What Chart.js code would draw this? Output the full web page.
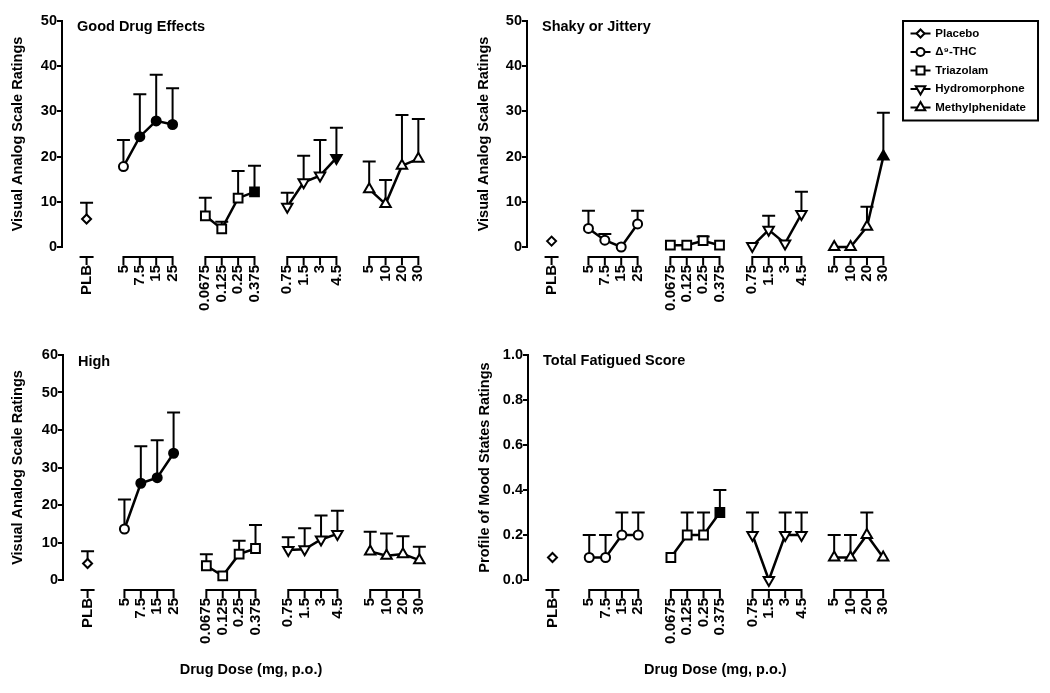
<!DOCTYPE html>
<html>
<head>
<meta charset="utf-8">
<script src="https://cdn.jsdelivr.net/npm/chart.js@4.4.1/dist/chart.umd.min.js"></script>
<style>
  body { margin: 0; background: #fff; }
  #wrap { position: relative; width: 1050px; height: 693px; }
  canvas { position: absolute; }
</style>
</head>
<body>
<div id="wrap">
  <canvas id="good" width="470" height="330" style="left:0;top:0"></canvas>
  <canvas id="shaky" width="580" height="330" style="left:470px;top:0"></canvas>
  <canvas id="high" width="470" height="363" style="left:0;top:330px"></canvas>
  <canvas id="fatigue" width="450" height="363" style="left:470px;top:330px"></canvas>
</div>
<script>
// x tick labels, in plotting order (placebo, then 4 doses of each drug)
const doseLabels = ['PLB', '5', '7.5', '15', '25', '0.0675', '0.125', '0.25', '0.375',
  '0.75', '1.5', '3', '4.5', '5', '10', '20', '30'];
const drugNames = ['Placebo', 'Δ⁹-THC', 'Triazolam', 'Hydromorphone', 'Methylphenidate'];
const drugCounts = [1, 4, 4, 4, 4];

// Good Drug Effects (VAS)
const goodMeans = [6.2, 17.8, 24.4, 27.9, 27.1, 6.9, 4.0, 10.8, 12.2, 8.9, 14.3, 15.8, 19.7, 12.8, 9.5, 18.0, 19.5];
const goodSem   = [3.6, 5.9, 9.4, 10.2, 8.0, 4.0, 1.6, 6.0, 5.8, 3.1, 5.9, 7.9, 6.7, 6.1, 5.3, 11.2, 8.8];
const goodSig   = [0, 0, 1, 1, 1, 0, 0, 0, 1, 0, 0, 0, 1, 0, 0, 0, 0];

// Shaky or Jittery (VAS)
const shakyMeans = [1.3, 4.1, 1.5, 0.0, 5.1, 0.4, 0.4, 1.4, 0.4, 0.2, 3.8, 0.8, 7.3, 0.0, 0.0, 4.5, 20.0];
const shakySem   = [0, 3.9, 1.4, 0, 2.9, 0, 0, 0.9, 0, 0, 3.1, 0, 4.9, 0, 0, 4.4, 9.7];
const shakySig   = [0, 0, 0, 0, 0, 0, 0, 0, 0, 0, 0, 0, 0, 0, 0, 0, 1];

// High (VAS)
const highMeans = [4.4, 13.6, 25.8, 27.3, 33.8, 3.8, 1.1, 6.9, 8.4, 8.0, 8.2, 10.8, 12.3, 7.6, 6.5, 6.9, 5.3];
const highSem   = [3.3, 7.9, 9.9, 10.0, 10.9, 3.1, 0, 3.6, 6.3, 3.4, 5.6, 6.4, 6.2, 5.3, 5.9, 4.8, 3.6];
const highSig   = [0, 0, 1, 1, 1, 0, 0, 0, 0, 0, 0, 0, 0, 0, 0, 0, 0];

// Total Fatigued Score (POMS)
const fatigueMeans = [0.1, 0.1, 0.1, 0.2, 0.2, 0.1, 0.2, 0.2, 0.3, 0.2, 0.0, 0.2, 0.2, 0.1, 0.1, 0.2, 0.1];
const fatigueSem   = [0, 0.1, 0.1, 0.1, 0.1, 0, 0.1, 0.1, 0.1, 0.1, 0, 0.1, 0.1, 0.1, 0.1, 0.1, 0];
const fatigueSig   = [0, 0, 0, 0, 0, 0, 0, 0, 1, 0, 0, 0, 0, 0, 0, 0, 0];

// marker look per drug
const markerStyle = ['rectRot', 'circle', 'rect', 'triangle', 'triangle'];
const markerRotation = [0, 0, 0, 180, 0];
const markerRadius = [4.5, 4.5, 6.2, 6, 6];

// x slot of every dose: each drug gets its own little axis segment
const groupStart = [-2.25, 0, 5, 10, 15];
const slots = [];
drugCounts.forEach((n, g) => {
    for (let k = 0; k < n; k++) slots.push(groupStart[g] + k);
});

Chart.defaults.font.family = "'Liberation Sans', Arial, Helvetica, sans-serif";
Chart.defaults.font.size = 14.5;
Chart.defaults.font.weight = 'bold';
Chart.defaults.color = '#000';

function buildDatasets(means, sem, sig) {
    let sets = [];
    let k = 0;
    drugNames.forEach((name, g) => {
        let pts = [], errs = [], fills = [];
        for (let j = 0; j < drugCounts[g]; j++, k++) {
            pts.push({ x: slots[k], y: means[k] });
            errs.push(sem[k]);
            fills.push(sig[k] ? '#000' : '#fff');
        }
        sets.push({
            label: name,
            data: pts,
            sem: errs,
            borderColor: '#000',
            borderWidth: 2.5,
            pointStyle: markerStyle[g],
            rotation: markerRotation[g],
            pointRadius: markerRadius[g],
            pointBorderWidth: 2,
            pointBorderColor: '#000',
            pointBackgroundColor: fills,
            clip: false
        });
    });
    return sets;
}

// upward SEM bars, drawn under the lines and markers
const errorBars = {
    id: 'errorBars',
    beforeDatasetsDraw(chart) {
        const ctx = chart.ctx;
        const yScale = chart.scales.y;
        ctx.save();
        ctx.strokeStyle = '#000';
        ctx.lineWidth = 2;
        chart.data.datasets.forEach((ds, i) => {
            chart.getDatasetMeta(i).data.forEach((pt, j) => {
                if (!ds.sem[j]) return;
                const top = yScale.getPixelForValue(ds.data[j].y + ds.sem[j]);
                ctx.beginPath();
                ctx.moveTo(pt.x, pt.y);
                ctx.lineTo(pt.x, top);
                ctx.moveTo(pt.x - 6.5, top);
                ctx.lineTo(pt.x + 6.5, top);
                ctx.stroke();
            });
        });
        ctx.restore();
    }
};

// broken x axis (one segment per drug), plus the panel title
const brokenAxis = {
    id: 'brokenAxis',
    afterDraw(chart, args, opts) {
        const { ctx, chartArea } = chart;
        const x = chart.scales.x;
        const yLine = chartArea.bottom + 10;
        ctx.save();
        ctx.strokeStyle = '#000';
        ctx.lineWidth = 2;
        let k = 0;
        drugCounts.forEach((n) => {
            const a = x.getPixelForValue(slots[k]);
            const b = x.getPixelForValue(slots[k + n - 1]);
            ctx.beginPath();
            if (n === 1) {
                ctx.moveTo(a - 7, yLine);
                ctx.lineTo(a + 7, yLine);
            } else {
                ctx.moveTo(a - 1, yLine);
                ctx.lineTo(b + 1, yLine);
            }
            for (let j = 0; j < n; j++) {
                const p = x.getPixelForValue(slots[k + j]);
                ctx.moveTo(p, yLine);
                ctx.lineTo(p, yLine + 8);
            }
            ctx.stroke();
            k += n;
        });
        ctx.fillStyle = '#000';
        ctx.font = "bold 14.5px 'Liberation Sans', Arial, sans-serif";
        ctx.textBaseline = 'middle';
        ctx.fillText(opts.title, chartArea.left + 15, chartArea.top + opts.titleDy);
        ctx.restore();
    }
};

// legend symbols (line through marker) and the frame round the legend
const legendFrame = {
    id: 'legendFrame',
    afterDraw(chart) {
        const legend = chart.legend;
        if (!legend || !legend.options.display) return;
        const ctx = chart.ctx;
        const boxes = legend.legendHitBoxes;
        ctx.save();
        ctx.strokeStyle = '#000';
        ctx.fillStyle = '#fff';
        ctx.lineWidth = 2;
        boxes.forEach((hb, i) => {
            const cy = hb.top + hb.height / 2;
            const cx = hb.left + 11;
            ctx.beginPath();
            ctx.moveTo(hb.left + 1, cy);
            ctx.lineTo(hb.left + 21, cy);
            ctx.stroke();
            ctx.fillStyle = '#fff';
            Chart.helpers.drawPoint(ctx, {
                pointStyle: markerStyle[i],
                rotation: markerRotation[i],
                radius: markerRadius[i] - 0.5,
                borderWidth: 2
            }, cx, cy);
        });
        const last = boxes[boxes.length - 1];
        ctx.lineWidth = 2;
        ctx.strokeRect(legend.left, legend.top, 135, last.top + last.height + 7 - legend.top);
        ctx.restore();
    }
};

function makePanel(id, cfg) {
    return new Chart(document.getElementById(id), {
        type: 'line',
        data: { datasets: buildDatasets(cfg.means, cfg.sem, cfg.sig) },
        options: {
            responsive: false,
            animation: false,
            events: [],
            layout: { padding: cfg.padding },
            plugins: {
                legend: cfg.legend ? {
                    display: true,
                    position: 'right',
                    align: 'start',
                    labels: {
                        boxWidth: 20,
                        boxHeight: 12,
                        padding: 6.5,
                        color: '#000',
                        font: { size: 11.5, weight: 'bold' },
                        generateLabels: (chart) => chart.data.datasets.map((ds, i) => ({
                            text: ds.label,
                            fillStyle: 'rgba(0,0,0,0)',
                            strokeStyle: 'rgba(0,0,0,0)',
                            lineWidth: 0,
                            fontColor: '#000',
                            datasetIndex: i
                        }))
                    }
                } : { display: false },
                tooltip: { enabled: false },
                brokenAxis: { title: cfg.title, titleDy: cfg.titleDy }
            },
            scales: {
                x: {
                    type: 'linear',
                    min: -3.75,
                    max: 19.2,
                    afterBuildTicks: (s) => { s.ticks = slots.map(v => ({ value: v })); },
                    afterFit: (s) => { s.height = cfg.xHeight; },
                    grid: { display: false, drawTicks: false },
                    border: { display: false },
                    ticks: {
                        autoSkip: false,
                        minRotation: 90,
                        maxRotation: 90,
                        padding: 18,
                        color: '#000',
                        font: { size: 15, weight: 'bold' },
                        callback: (v, i) => doseLabels[i]
                    },
                    title: {
                        display: !!cfg.xTitle,
                        text: cfg.xTitle || '',
                        color: '#000',
                        font: { size: 14.5, weight: 'bold' },
                        padding: { top: 0, bottom: 14 }
                    }
                },
                y: {
                    min: 0,
                    max: cfg.yMax,
                    afterFit: (s) => { s.width = cfg.yWidth; },
                    grid: { drawOnChartArea: false, tickLength: 5, color: '#000', lineWidth: 2 },
                    border: { color: '#000', width: 2 },
                    ticks: {
                        stepSize: cfg.yStep,
                        padding: 0,
                        color: '#000',
                        font: { size: 14.5, weight: 'bold' },
                        callback: (v) => cfg.yDecimals ? v.toFixed(cfg.yDecimals) : v
                    },
                    title: {
                        display: true,
                        text: cfg.yTitle,
                        color: '#000',
                        font: { size: 14.5, weight: 'bold' },
                        padding: { top: cfg.yTitlePad, bottom: 0 }
                    }
                }
            }
        },
        plugins: [errorBars, brokenAxis, legendFrame]
    });
}

makePanel('good', {
    means: goodMeans, sem: goodSem, sig: goodSig,
    title: 'Good Drug Effects', titleDy: 6,
    yTitle: 'Visual Analog Scale Ratings', yMax: 50, yStep: 10, yDecimals: 0,
    yWidth: 62, yTitlePad: 9.3, xHeight: 83,
    padding: { top: 21, right: 32, bottom: 0, left: 0 }
});

makePanel('shaky', {
    means: shakyMeans, sem: shakySem, sig: shakySig,
    title: 'Shaky or Jittery', titleDy: 6,
    yTitle: 'Visual Analog Scale Ratings', yMax: 50, yStep: 10, yDecimals: 0,
    yWidth: 57, yTitlePad: 5.3, xHeight: 83, legend: true,
    padding: { top: 21, right: 14, bottom: 0, left: 0 }
});

makePanel('high', {
    means: highMeans, sem: highSem, sig: highSig,
    title: 'High', titleDy: 7,
    yTitle: 'Visual Analog Scale Ratings', yMax: 60, yStep: 10, yDecimals: 0,
    yWidth: 63, yTitlePad: 9.3, xHeight: 113, xTitle: 'Drug Dose (mg, p.o.)',
    padding: { top: 25, right: 31, bottom: 0, left: 0 }
});

makePanel('fatigue', {
    means: fatigueMeans, sem: fatigueSem, sig: fatigueSig,
    title: 'Total Fatigued Score', titleDy: 6,
    yTitle: 'Profile of Mood States Ratings', yMax: 1.0, yStep: 0.2, yDecimals: 1,
    yWidth: 58, yTitlePad: 6.3, xHeight: 113, xTitle: 'Drug Dose (mg, p.o.)',
    padding: { top: 25, right: 16, bottom: 0, left: 0 }
});
</script>
</body>
</html>
